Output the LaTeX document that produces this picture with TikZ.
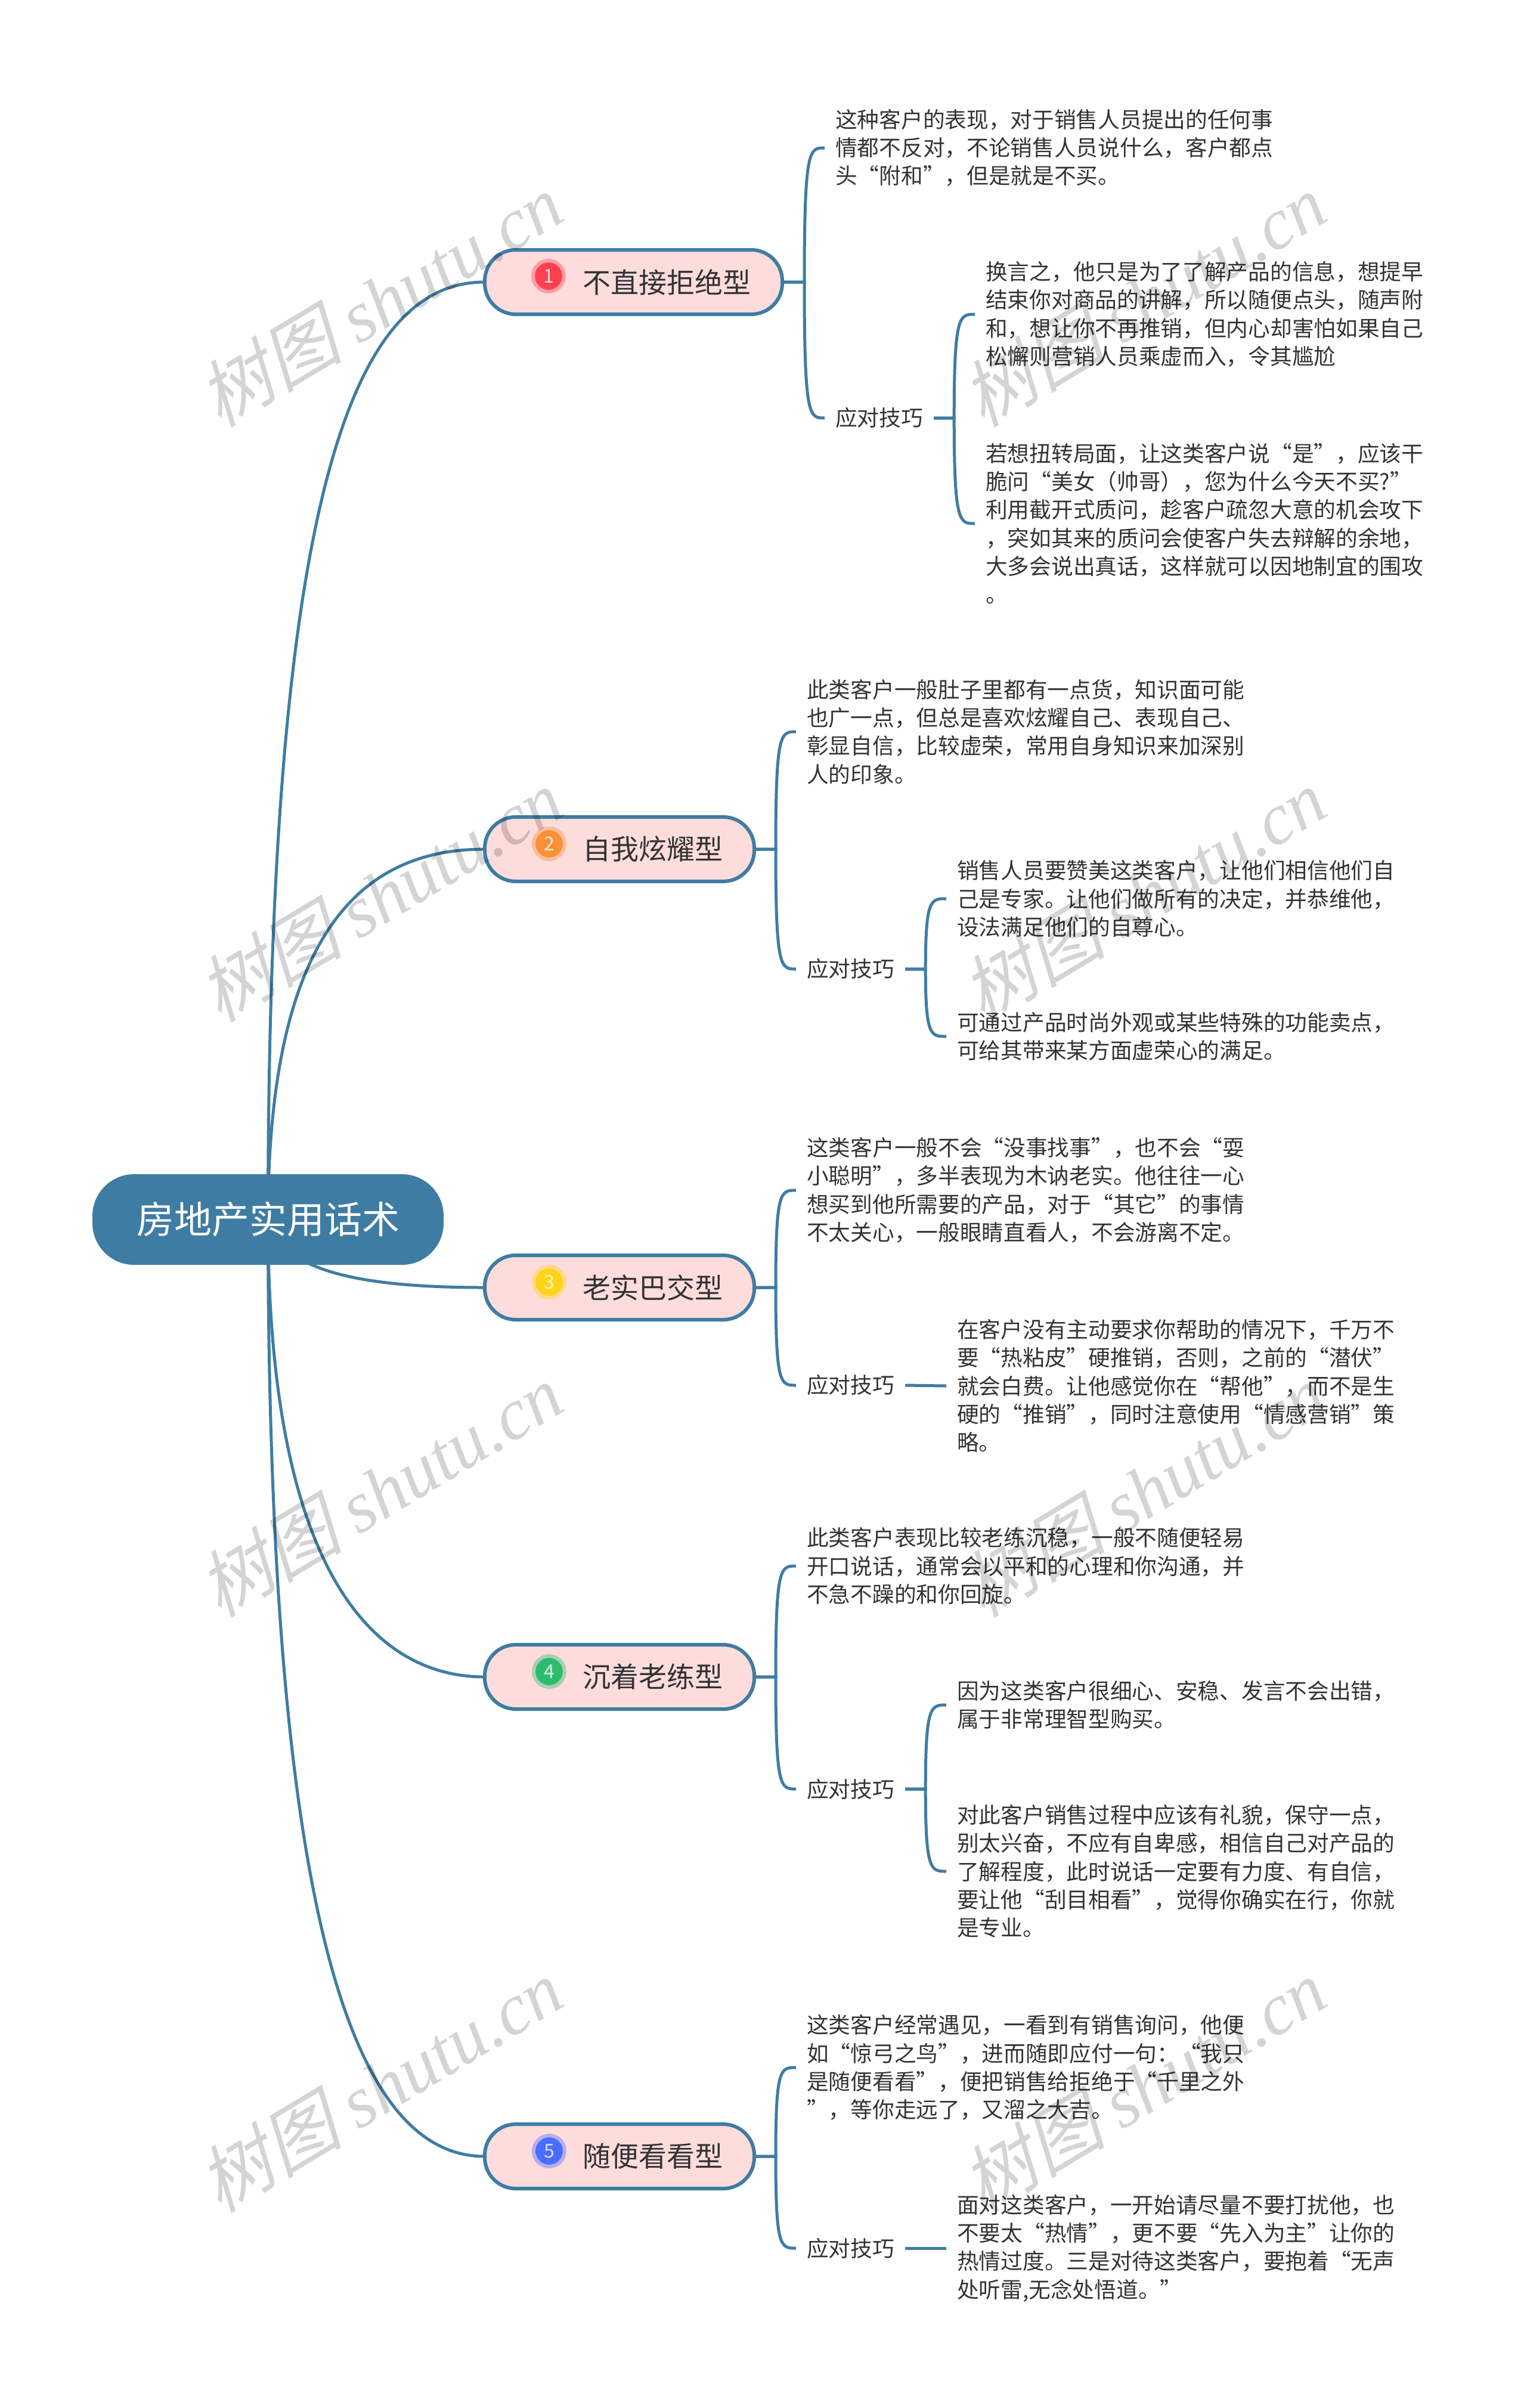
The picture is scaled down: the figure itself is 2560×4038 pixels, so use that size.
\documentclass[tikz,border=0pt]{standalone}
\usepackage{fontspec}
\setmainfont{Noto Sans CJK SC}
\newfontfamily\wmcjk[FakeSlant=0.25]{Noto Sans CJK SC}
\newfontfamily\wmlatin{Liberation Serif}
\usetikzlibrary{backgrounds, calc}
\newcommand{\zc}{\char"FF0C\relax}
\newcommand{\zcolon}{\char"FF1A\relax}
\newcommand{\zlp}{\char"FF08\relax}
\newcommand{\zrp}{\char"FF09\relax}
\definecolor{branchblue}{HTML}{3F7CA3}
\definecolor{topicpink}{HTML}{FDDCDC}
\definecolor{inkgray}{HTML}{333333}
\definecolor{badgered}{HTML}{FF4050}
\definecolor{badgeorange}{HTML}{FA9138}
\definecolor{badgeyellow}{HTML}{FFD415}
\definecolor{badgegreen}{HTML}{2DBB6E}
\definecolor{badgeblue}{HTML}{4A6CFF}
\tikzset{
  branch/.style={draw=branchblue, line width=5pt},
  rootnode/.style={fill=branchblue, text=white, rounded corners=70pt, inner xsep=74pt,
    minimum height=152pt, font=\fontsize{63pt}{70pt}\selectfont},
  topic/.style={draw=branchblue, line width=6pt, fill=topicpink, text=inkgray, rounded corners=52pt,
    anchor=west, inner xsep=52.5pt, outer sep=0pt, minimum height=108pt,
    execute at begin node={\hspace*{112pt}}, font=\fontsize{47pt}{55pt}\selectfont},
  note/.style={anchor=west, align=left, text=inkgray, inner xsep=18pt, inner ysep=0pt,
    font=\fontsize{36.7pt}{47.3pt}\selectfont},
  badge/.style={circle, fill=#1, draw=#1!40!topicpink, line width=6pt, minimum size=52pt, inner sep=0pt,
    text=white!80!#1, font=\fontsize{32pt}{32pt}\selectfont},
  watermark/.style={rotate=31, text=black, opacity=0.17, font=\fontsize{122pt}{130pt}\selectfont}
}
\begin{document}
\begin{tikzpicture}[x=1pt,y=-1pt]
  \useasboundingbox (0,0) rectangle (2560,4038);

  %--- root and topics
  \node[rootnode] (root) at (449.5,2045) {房地产实用话术};
  \node[topic] (t1) at (813,473) {不直接拒绝型};
  \node[topic] (t2) at (813,1424) {自我炫耀型};
  \node[topic] (t3) at (813,2159) {老实巴交型};
  \node[topic] (t4) at (813,2812) {沉着老练型};
  \node[topic] (t5) at (813,3616) {随便看看型};

  %--- number badges
  \node[badge=badgered] (n1) at (920,463) {1};
  \node[badge=badgeorange] (n2) at (921,1415) {2};
  \node[badge=badgeyellow] (n3) at (921,2150) {3};
  \node[badge=badgegreen] (n4) at (921,2803) {4};
  \node[badge=badgeblue] (n5) at (921,3607) {5};

  %--- first topic
  \node[note] (a1) at (1383,248) {这种客户的表现\zc 对于销售人员提出的任何事\\情都不反对\zc 不论销售人员说什么\zc 客户都点\\头“附和”\zc 但是就是不买。};
  \node[note] (s1) at (1383,701) {应对技巧};
  \node[note] (b1) at (1635,527) {换言之\zc 他只是为了了解产品的信息\zc 想提早\\结束你对商品的讲解\zc 所以随便点头\zc 随声附\\和\zc 想让你不再推销\zc 但内心却害怕如果自己\\松懈则营销人员乘虚而入\zc 令其尴尬};
  \node[note] (c1) at (1635,878) {若想扭转局面\zc 让这类客户说“是”\zc 应该干\\脆问“美女\zlp 帅哥\zrp\zc 您为什么今天不买?”\\利用截开式质问\zc 趁客户疏忽大意的机会攻下\\\zc 突如其来的质问会使客户失去辩解的余地\zc\\大多会说出真话\zc 这样就可以因地制宜的围攻\\。};

  %--- second topic
  \node[note] (a2) at (1335,1227) {此类客户一般肚子里都有一点货\zc 知识面可能\\也广一点\zc 但总是喜欢炫耀自己、表现自己、\\彰显自信\zc 比较虚荣\zc 常用自身知识来加深别\\人的印象。};
  \node[note] (s2) at (1335,1625) {应对技巧};
  \node[note] (b2) at (1587,1507) {销售人员要赞美这类客户\zc 让他们相信他们自\\己是专家。让他们做所有的决定\zc 并恭维他\zc\\设法满足他们的自尊心。};
  \node[note] (c2) at (1587,1738) {可通过产品时尚外观或某些特殊的功能卖点\zc\\可给其带来某方面虚荣心的满足。};

  %--- third topic
  \node[note] (a3) at (1335,1996) {这类客户一般不会“没事找事”\zc 也不会“耍\\小聪明”\zc 多半表现为木讷老实。他往往一心\\想买到他所需要的产品\zc 对于“其它”的事情\\不太关心\zc 一般眼睛直看人\zc 不会游离不定。};
  \node[note] (s3) at (1335,2323) {应对技巧};
  \node[note] (b3) at (1587,2324) {在客户没有主动要求你帮助的情况下\zc 千万不\\要“热粘皮”硬推销\zc 否则\zc 之前的“潜伏”\\就会白费。让他感觉你在“帮他”\zc 而不是生\\硬的“推销”\zc 同时注意使用“情感营销”策\\略。};

  %--- fourth topic
  \node[note] (a4) at (1335,2626) {此类客户表现比较老练沉稳\zc 一般不随便轻易\\开口说话\zc 通常会以平和的心理和你沟通\zc 并\\不急不躁的和你回旋。};
  \node[note] (s4) at (1335,3000) {应对技巧};
  \node[note] (b4) at (1587,2859) {因为这类客户很细心、安稳、发言不会出错\zc\\属于非常理智型购买。};
  \node[note] (c4) at (1587,3138) {对此客户销售过程中应该有礼貌\zc 保守一点\zc\\别太兴奋\zc 不应有自卑感\zc 相信自己对产品的\\了解程度\zc 此时说话一定要有力度、有自信\zc\\要让他“刮目相看”\zc 觉得你确实在行\zc 你就\\是专业。};

  %--- fifth topic
  \node[note] (a5) at (1335,3467) {这类客户经常遇见\zc 一看到有销售询问\zc 他便\\如“惊弓之鸟”\zc 进而随即应付一句\zcolon “我只\\是随便看看”\zc 便把销售给拒绝于“千里之外\\”\zc 等你走远了\zc 又溜之大吉。};
  \node[note] (s5) at (1335,3770) {应对技巧};
  \node[note] (b5) at (1587,3770) {面对这类客户\zc 一开始请尽量不要打扰他\zc 也\\不要太“热情”\zc 更不要“先入为主”让你的\\热情过度。三是对待这类客户\zc 要抱着“无声\\处听雷,无念处悟道。”};

  %--- connectors
  \begin{pgfonlayer}{background}
    \draw[branch] (root.center) .. controls +(0,-1245) and +(-214,0) .. (t1.west);
    \draw[branch] (root.center) .. controls +(0,-500) and +(-193,0) .. (t2.west);
    \draw[branch] (root.center) .. controls +(21,85) and +(-214,0) .. (t3.west);
    \draw[branch] (root.center) .. controls +(0,560) and +(-203,0) .. (t4.west);
    \draw[branch] (root.center) .. controls +(0,1200) and +(-214,0) .. (t5.west);
  \end{pgfonlayer}
  \foreach \from/\to/\gap in {t1/a1/37, t1/s1/37, s1/b1/34, s1/c1/34,
      t2/a2/36, t2/s2/36, s2/b2/34, s2/c2/34,
      t3/a3/36, t3/s3/36,
      t4/a4/36, t4/s4/36, s4/b4/34, s4/c4/34,
      t5/a5/36, t5/s5/36}
    \draw[branch] (\from.east) -- ++(\gap,0) coordinate (fork)
      .. controls (fork |- \to.west) and ($(\to.west)+(-26,0)$) .. (\to.west);
  \draw[branch] (s3.east) -- (b3.west);
  \draw[branch] (s5.east) -- (b5.west);

  %--- watermark
  \foreach \wx in {637,1917}
    \foreach \wy in {503,1501,2499,3497}
      \node[watermark] (wm\wx\wy) at (\wx,\wy) {{\wmcjk 树图} {\wmlatin\itshape shutu.cn}};
\end{tikzpicture}
\end{document}
